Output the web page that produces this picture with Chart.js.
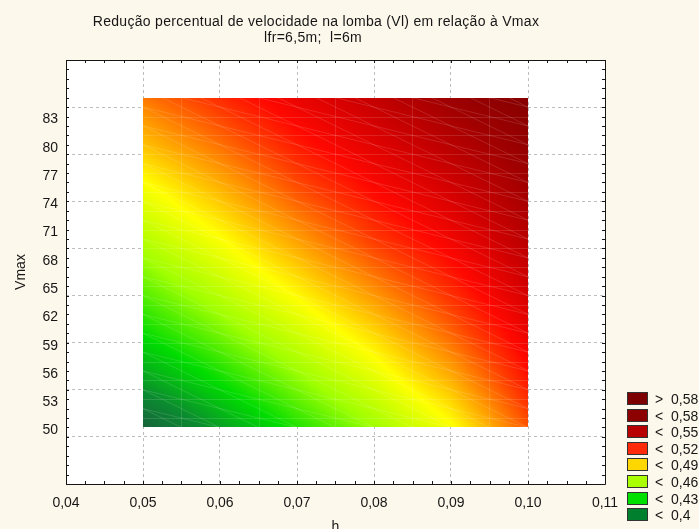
<!DOCTYPE html>
<html>
<head>
<meta charset="utf-8">
<script src="https://cdn.jsdelivr.net/npm/chart.js@4.4.0/dist/chart.umd.min.js"></script>
<style>
  html, body { margin: 0; padding: 0; background: #fdf8ec; }
</style>
</head>
<body>
<canvas id="chartLomba" width="699" height="529"></canvas>
<script>
// grid: columns = h, rows = Vmax
const hValues = [0.05, 0.06, 0.07, 0.08, 0.09, 0.10];
const vmaxValues = [50, 55, 60, 65, 70, 75, 80, 85];
const reducao = [
  [0.376, 0.408, 0.436, 0.460, 0.488, 0.534], // 50
  [0.408, 0.432, 0.456, 0.480, 0.510, 0.551], // 55
  [0.431, 0.452, 0.475, 0.500, 0.530, 0.564], // 60
  [0.449, 0.471, 0.495, 0.521, 0.547, 0.575], // 65
  [0.467, 0.489, 0.515, 0.541, 0.561, 0.585], // 70
  [0.485, 0.508, 0.534, 0.555, 0.573, 0.594], // 75
  [0.506, 0.527, 0.550, 0.568, 0.585, 0.601], // 80
  [0.525, 0.545, 0.564, 0.580, 0.597, 0.608]  // 85
];
const yTickLabels = [50, 53, 56, 59, 62, 65, 68, 71, 74, 77, 80, 83];
const xTickLabels = [0.04, 0.05, 0.06, 0.07, 0.08, 0.09, 0.10, 0.11];
const levelLabels = [">  0,58", "<  0,58", "<  0,55", "<  0,52", "<  0,49", "<  0,46", "<  0,43", "<  0,4"];

// styles
const levelColors = ["#7d0000", "#8c0000", "#b80000", "#ff2a0a", "#ffd700", "#aaff00", "#00e000", "#007f2e"];
const rampStops = [0.37, 0.40, 0.43, 0.46, 0.49, 0.52, 0.54, 0.555, 0.575, 0.595, 0.61];
const rampColors = ["#1a5a3e", "#0b8a30", "#00dc00", "#a0ff00", "#ffff00", "#ff8c00",
                    "#ff3c00", "#ff0800", "#d00000", "#a00000", "#820000"];
const cream = "#fdf8ec";
const ink = "#161616";
const font = "Liberation Sans, Arial, sans-serif";

function hexRgb(c) {
  return [parseInt(c.slice(1, 3), 16), parseInt(c.slice(3, 5), 16), parseInt(c.slice(5, 7), 16)];
}
const rampRgb = rampColors.map(hexRgb);

function rampColour(z) {
  if (z <= rampStops[0]) return rampRgb[0];
  const n = rampStops.length - 1;
  if (z >= rampStops[n]) return rampRgb[n];
  let i = 0;
  while (z > rampStops[i + 1]) i++;
  const t = (z - rampStops[i]) / (rampStops[i + 1] - rampStops[i]);
  const a = rampRgb[i], b = rampRgb[i + 1];
  return [a[0] + (b[0] - a[0]) * t, a[1] + (b[1] - a[1]) * t, a[2] + (b[2] - a[2]) * t];
}

function findCell(arr, v) {
  let i = 0;
  while (i < arr.length - 2 && v > arr[i + 1]) i++;
  const t = Math.min(1, Math.max(0, (v - arr[i]) / (arr[i + 1] - arr[i])));
  return [i, t];
}

function valueAt(h, v) {
  const [i, tx] = findCell(hValues, h);
  const [j, ty] = findCell(vmaxValues, v);
  const z00 = reducao[j][i], z10 = reducao[j][i + 1];
  const z01 = reducao[j + 1][i], z11 = reducao[j + 1][i + 1];
  return (z00 * (1 - tx) + z10 * tx) * (1 - ty) + (z01 * (1 - tx) + z11 * tx) * ty;
}

const isHundredth = (v) => Math.abs(v * 100 - Math.round(v * 100)) < 1e-6;

// field painted through the chart scales
const surfacePlugin = {
  id: "surface",
  beforeDraw(chart) {
    const { ctx, chartArea: a } = chart;
    ctx.save();
    ctx.fillStyle = cream;
    ctx.fillRect(0, 0, chart.width, chart.height);
    ctx.fillStyle = "#ffffff";
    ctx.fillRect(a.left, a.top, a.right - a.left, a.bottom - a.top);
    ctx.restore();
  },
  beforeDatasetsDraw(chart) {
    const { ctx } = chart;
    const xs = chart.scales.x, ys = chart.scales.y;
    const hMin = hValues[0], hMax = hValues[hValues.length - 1];
    const vMin = vmaxValues[0], vMax = vmaxValues[vmaxValues.length - 1];
    const x0 = Math.round(xs.getPixelForValue(hMin));
    const x1 = Math.round(xs.getPixelForValue(hMax));
    const y0 = Math.round(ys.getPixelForValue(vMax));
    const y1 = Math.round(ys.getPixelForValue(vMin));
    const w = x1 - x0, hgt = y1 - y0;
    const off = document.createElement("canvas");
    off.width = w; off.height = hgt;
    const octx = off.getContext("2d");
    const img = octx.createImageData(w, hgt);
    for (let py = 0; py < hgt; py++) {
      const v = ys.getValueForPixel(y0 + py + 0.5);
      for (let px = 0; px < w; px++) {
        const h = xs.getValueForPixel(x0 + px + 0.5);
        const c = rampColour(valueAt(h, v));
        const k = (py * w + px) * 4;
        img.data[k] = c[0]; img.data[k + 1] = c[1]; img.data[k + 2] = c[2]; img.data[k + 3] = 255;
      }
    }
    octx.putImageData(img, 0, 0);
    ctx.drawImage(off, x0, y0);

    // faint mesh left by the surface triangulation
    ctx.save();
    ctx.beginPath();
    ctx.rect(x0, y0, w, hgt);
    ctx.clip();
    ctx.strokeStyle = "rgba(255,255,255,0.13)";
    ctx.lineWidth = 1;
    ctx.beginPath();
    for (let v = vMin + 1; v < vMax; v += 2) {
      const p = Math.round(ys.getPixelForValue(v)) + 0.5;
      ctx.moveTo(x0, p); ctx.lineTo(x1, p);
    }
    for (let h = hMin + 0.005; h < hMax; h += 0.01) {
      const p = Math.round(xs.getPixelForValue(h)) + 0.5;
      ctx.moveTo(p, y0); ctx.lineTo(p, y1);
    }
    [200, 400].forEach((slope) => {
      for (let c = vMin - slope * 0.06; c < vMax + slope * 0.12; c += 2) {
        const hA = hMin - 0.01, hB = hMax + 0.01;
        ctx.moveTo(xs.getPixelForValue(hA), ys.getPixelForValue(c - slope * (hA - hMin)));
        ctx.lineTo(xs.getPixelForValue(hB), ys.getPixelForValue(c - slope * (hB - hMin)));
      }
    });
    ctx.stroke();
    ctx.restore();
  },
  afterDraw(chart) {
    const { ctx, chartArea: a } = chart;
    const xs = chart.scales.x, ys = chart.scales.y;
    ctx.save();
    // frame with inward tick marks
    ctx.strokeStyle = ink;
    ctx.lineWidth = 1;
    ctx.beginPath();
    ctx.rect(Math.round(a.left) + 0.5, Math.round(a.top) + 0.5,
             Math.round(a.right - a.left), Math.round(a.bottom - a.top));
    xs.ticks.forEach((t) => {
      const p = Math.round(xs.getPixelForValue(t.value)) + 0.5;
      ctx.moveTo(p, a.bottom); ctx.lineTo(p, a.bottom - 3);
      ctx.moveTo(p, a.top); ctx.lineTo(p, a.top + 3);
    });
    ys.ticks.forEach((t) => {
      const p = Math.round(ys.getPixelForValue(t.value)) + 0.5;
      ctx.moveTo(a.left, p); ctx.lineTo(a.left + 3, p);
      ctx.moveTo(a.right, p); ctx.lineTo(a.right - 3, p);
    });
    ctx.stroke();

    // title
    ctx.fillStyle = ink;
    ctx.font = "14px " + font;
    ctx.textAlign = "center";
    ctx.textBaseline = "middle";
    ctx.letterSpacing = "0.3px";
    ctx.fillText("Redução percentual de velocidade na lomba (Vl) em relação à Vmax", 316, 22);
    ctx.fillText("lfr=6,5m;  l=6m", 313, 38);
    ctx.letterSpacing = "0px";

    // legend
    ctx.textAlign = "left";
    levelLabels.forEach((lab, i) => {
      const top = Math.round(392 + i * 16.6);
      ctx.fillStyle = levelColors[i];
      ctx.fillRect(627, top, 20, 12);
      ctx.strokeStyle = "#333333";
      ctx.strokeRect(627.5, top + 0.5, 20, 12);
      ctx.fillStyle = ink;
      ctx.fillText(lab, 655, top + 8);
    });
    ctx.restore();
  }
};

const points = [];
vmaxValues.forEach((v, j) => hValues.forEach((h, i) => points.push({ x: h, y: v, z: reducao[j][i] })));

const chartLomba = new Chart(document.getElementById("chartLomba"), {
  type: "scatter",
  data: {
    datasets: [{ label: "Vl/Vmax", data: points, pointRadius: 0, pointHoverRadius: 0 }]
  },
  plugins: [surfacePlugin],
  options: {
    responsive: false,
    animation: false,
    devicePixelRatio: 1,
    layout: { padding: { left: 8, right: 94, top: 60, bottom: 0 } },
    plugins: { legend: { display: false }, tooltip: { enabled: false } },
    scales: {
      x: {
        type: "linear",
        min: 0.04,
        max: 0.11,
        afterFit: (s) => { s.height = 45; },
        border: { display: false, dash: [3, 3] },
        grid: {
          drawTicks: false,
          color: (c) => (c.tick && isHundredth(c.tick.value) && c.tick.value > 0.041 && c.tick.value < 0.109) ? "#bdbdbd" : "rgba(0,0,0,0)"
        },
        ticks: {
          stepSize: 0.0025,
          autoSkip: false,
          maxRotation: 0,
          padding: 11,
          color: ink,
          font: { family: font, size: 14 },
          callback: (v) => xTickLabels.some((t) => Math.abs(t - v) < 1e-6) ? v.toFixed(2).replace(".", ",") : ""
        },
        title: { display: true, text: "h", color: ink, font: { family: font, size: 14 }, padding: { top: 0, bottom: -7 } }
      },
      y: {
        type: "linear",
        min: 44,
        max: 89,
        afterFit: (s) => { s.width = 58; },
        border: { display: false, dash: [3, 3] },
        grid: {
          drawTicks: false,
          color: (c) => (c.tick && (c.tick.value - 44) % 5 === 0 && c.tick.value > 44 && c.tick.value < 89) ? "#bdbdbd" : "rgba(0,0,0,0)"
        },
        ticks: {
          stepSize: 1,
          autoSkip: false,
          padding: 8,
          labelOffset: 3,
          color: ink,
          font: { family: font, size: 14 },
          callback: (v) => yTickLabels.includes(v) ? String(v) : ""
        },
        title: { display: true, text: "Vmax", color: ink, font: { family: font, size: 14 }, padding: { top: 5, bottom: 0 } }
      }
    }
  }
});
</script>
</body>
</html>
